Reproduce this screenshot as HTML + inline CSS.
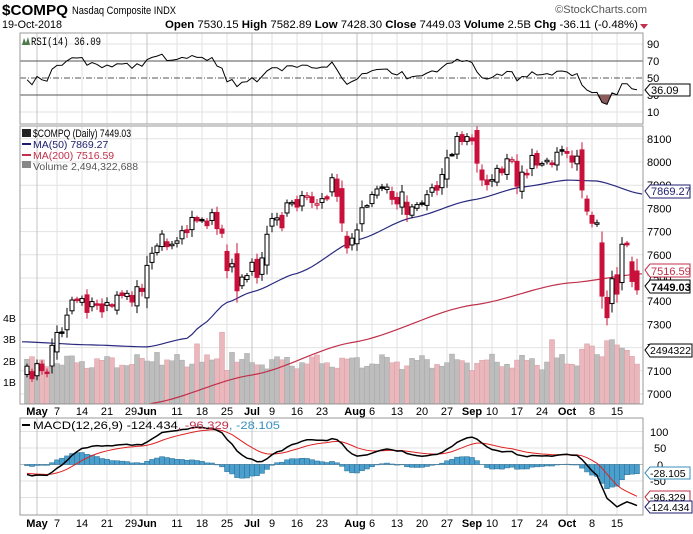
<!DOCTYPE html>
<html><head><meta charset="utf-8">
<style>
html,body{margin:0;padding:0;background:#fff;width:693px;height:534px;overflow:hidden}
svg{display:block;font-family:"Liberation Sans",sans-serif}
</style></head>
<body>
<svg id="s" width="693" height="534" viewBox="0 0 693 534" xmlns="http://www.w3.org/2000/svg">
<defs>
<clipPath id="cR"><rect x="20" y="33" width="623" height="91"/></clipPath>
<clipPath id="cM"><rect x="20" y="126" width="623" height="278"/></clipPath>
<clipPath id="cD"><rect x="20" y="418" width="623" height="97"/></clipPath>
</defs>
<rect width="693" height="534" fill="#fff"/>
<g id="grid"></g>
<g id="rsi" clip-path="url(#cR)"></g>
<g id="main" clip-path="url(#cM)"></g>
<g id="macd" clip-path="url(#cD)"></g>
<rect x="20" y="33" width="623" height="91" fill="none" stroke="#999"/>
<rect x="20" y="126" width="623" height="278" fill="none" stroke="#999"/>
<rect x="20" y="418" width="623" height="97" fill="none" stroke="#999"/>

<!-- header -->
<text x="2" y="15" font-size="15" font-weight="bold" textLength="66" lengthAdjust="spacingAndGlyphs">$COMPQ</text>
<text x="72" y="14" font-size="11" textLength="104" lengthAdjust="spacingAndGlyphs">Nasdaq Composite  INDX</text>
<text x="647" y="13" font-size="11" fill="#555" text-anchor="end">©StockCharts.com</text>
<text x="2" y="28" font-size="11" textLength="60" lengthAdjust="spacingAndGlyphs">19-Oct-2018</text>
<text x="165" y="28" font-size="11" textLength="473" lengthAdjust="spacingAndGlyphs"><tspan font-weight="bold">Open</tspan> 7530.15 <tspan font-weight="bold">High</tspan> 7582.89 <tspan font-weight="bold">Low</tspan> 7428.30 <tspan font-weight="bold">Close</tspan> 7449.03 <tspan font-weight="bold">Volume</tspan> 2.5B <tspan font-weight="bold">Chg</tspan> -36.11 (-0.48%)</text>
<polygon points="640,24 648,24 644,29" fill="#c0304a"/>

<!-- RSI labels -->
<polygon points="22,45 24,38 26,43 28,37 30,45" fill="#4a7a4a"/>
<text x="31" y="45" font-size="11" font-family="Liberation Mono,monospace" textLength="70" lengthAdjust="spacingAndGlyphs">RSI(14) 36.09</text>
<g font-size="11" fill="#000">
<text x="647" y="48">90</text><text x="647" y="65">70</text><text x="647" y="82">50</text><text x="647" y="99">30</text><text x="647" y="116">10</text>
</g>
<polygon points="645,90 650,84 690,84 690,96 650,96" fill="#fff" stroke="#000"/>
<text x="651" y="94" font-size="11">36.09</text>

<!-- main legend -->
<rect x="22" y="129" width="9" height="8" fill="#222"/>
<text x="33" y="137" font-size="11" textLength="98" lengthAdjust="spacingAndGlyphs">$COMPQ (Daily) 7449.03</text>
<line x1="22" y1="144" x2="31" y2="144" stroke="#1c1c6e" stroke-width="2"/>
<text x="33" y="148" font-size="10.5" fill="#1c1c6e">MA(50) 7869.27</text>
<line x1="22" y1="155" x2="31" y2="155" stroke="#c0304a" stroke-width="2"/>
<text x="33" y="159" font-size="10.5" fill="#c0304a">MA(200) 7516.59</text>
<rect x="22" y="161" width="9" height="7" fill="#888"/>
<text x="33" y="170" font-size="10.5" fill="#555">Volume 2,494,322,688</text>

<g font-size="11" fill="#000" id="pl"></g>
<g font-size="10.5" fill="#000">
<text x="3" y="322">4B</text><text x="3" y="343">3B</text><text x="3" y="365">2B</text><text x="3" y="386">1B</text>
</g>
<polygon points="645,191 650,185 690,185 690,198 650,198" fill="#fff" stroke="#1c1c6e"/>
<text x="651" y="195" font-size="11" fill="#1c1c6e">7869.27</text>
<polygon points="645,270 650,264 690,264 690,277 650,277" fill="#fff" stroke="#c0304a"/>
<text x="651" y="275" font-size="11" fill="#c0304a">7516.59</text>
<polygon points="645,286 650,280 690,280 690,293 650,293" fill="#fff" stroke="#000"/>
<text x="651" y="291" font-size="11" font-weight="bold">7449.03</text>
<polygon points="645,350 650,344 692,344 692,357 650,357" fill="#fff" stroke="#000"/>
<text x="650" y="354" font-size="10.5" textLength="41" lengthAdjust="spacingAndGlyphs">2494322</text>

<!-- MACD labels -->
<line x1="22" y1="425" x2="30" y2="425" stroke="#000" stroke-width="2"/>
<text x="33" y="429" font-size="11" textLength="247" lengthAdjust="spacingAndGlyphs">MACD(12,26,9) -124.434<tspan fill="#c0304a">, -96.329</tspan><tspan fill="#3a8fbf">, -28.105</tspan></text>
<g font-size="11">
<text x="650" y="436">100</text><text x="654" y="452">50</text><text x="657" y="469">0</text><text x="650" y="485">-50</text>
</g>
<polygon points="645,473 650,467 690,467 690,479 650,479" fill="#fff" stroke="#3a8fbf"/>
<text x="650" y="477" font-size="10.5">-28.105</text>
<polygon points="645,497 650,491 690,491 690,503 650,503" fill="#fff" stroke="#c0304a"/>
<text x="650" y="501" font-size="10.5">-96.329</text>
<polygon points="645,507 650,501 692,501 692,513 650,513" fill="#fff" stroke="#1c1c6e"/>
<text x="648" y="511" font-size="10.5">-124.434</text>

<!-- date labels -->
<g font-size="11" text-anchor="middle">
<g transform="translate(0,415)">
<text x="37" font-weight="bold">May</text><text x="57">7</text><text x="82">14</text><text x="107">21</text><text x="131">29</text><text x="147" font-weight="bold">Jun</text><text x="177">11</text><text x="202">18</text><text x="227">25</text><text x="252" font-weight="bold">Jul</text><text x="272">9</text><text x="297">16</text><text x="322">23</text><text x="355" font-weight="bold">Aug</text><text x="372">6</text><text x="397">13</text><text x="422">20</text><text x="447">27</text><text x="472" font-weight="bold">Sep</text><text x="492">10</text><text x="517">17</text><text x="542">24</text><text x="567" font-weight="bold">Oct</text><text x="592">8</text><text x="617">15</text>
</g>
<g transform="translate(0,527)">
<text x="37" font-weight="bold">May</text><text x="57">7</text><text x="82">14</text><text x="107">21</text><text x="131">29</text><text x="147" font-weight="bold">Jun</text><text x="177">11</text><text x="202">18</text><text x="227">25</text><text x="252" font-weight="bold">Jul</text><text x="272">9</text><text x="297">16</text><text x="322">23</text><text x="355" font-weight="bold">Aug</text><text x="372">6</text><text x="397">13</text><text x="422">20</text><text x="447">27</text><text x="472" font-weight="bold">Sep</text><text x="492">10</text><text x="517">17</text><text x="542">24</text><text x="567" font-weight="bold">Oct</text><text x="592">8</text><text x="617">15</text>
</g>
</g>
</svg>
<script>
(function(){
var NS="http://www.w3.org/2000/svg";
function el(p,t,a){var e=document.createElementNS(NS,t);for(var k in a)e.setAttribute(k,a[k]);p.appendChild(e);return e;}
var c=[7119.80,7066.27,7130.70,7100.90,7088.15,7209.62,
7265.21,7266.90,7339.91,7404.97,7402.88,
7411.32,7351.63,7398.30,7382.47,7354.34,
7394.04,7378.46,7425.96,7424.43,7433.85,
7396.59,7462.45,7442.12,7554.33,
7606.46,7637.86,7689.24,7635.07,7645.51,
7659.93,7703.79,7695.70,7761.04,7746.38,
7747.02,7725.59,7781.51,7712.95,7692.82,
7532.01,7561.63,7445.08,7503.68,7510.30,
7567.69,7502.67,7586.43,7688.39,
7756.20,7759.20,7716.61,7823.92,7825.98,
7805.72,7855.12,7854.44,7825.30,7820.20,
7841.87,7840.77,7932.24,7852.18,7737.42,
7630.00,7671.79,7707.29,7802.69,7812.01,
7859.68,7883.66,7888.33,7891.78,7839.11,
7819.71,7870.89,7774.12,7806.52,7816.33,
7821.01,7859.17,7889.10,7878.46,7945.98,
8017.90,8030.04,8109.69,8088.36,8109.54,
8091.25,7995.17,7922.73,7902.54,
7924.16,7972.47,7954.23,8013.71,8010.04,
7895.79,7956.11,7950.04,8028.23,7986.96,
7993.25,8007.47,7990.37,8041.97,8046.35,
8037.30,7999.55,8025.09,7879.51,7788.45,
7735.95,7738.02,7422.05,7329.06,7496.89,
7430.74,7645.49,7642.70,7485.14,7449.03];
var N=c.length; // index k -> day i=k-2
function X(k){return 37+5*(k-2);}
function PY(p){return 162+(8000-p)*0.232;}
function RY(v){return 44+(90-v)*0.85;}
function MY(v){return 464.5-v*0.33;}
var grid=document.getElementById('grid');
// horizontal grid
for(var p=7000;p<=8100;p+=100){var y=PY(p);el(grid,'line',{x1:20,x2:643,y1:y,y2:y,stroke:'#e2e2e2'});}
var pl=document.getElementById('pl');
for(var p=7000;p<=8100;p+=100){var t=el(pl,'text',{x:647,y:PY(p)+4});t.textContent=String(p);}
[90,10].forEach(function(v){el(grid,'line',{x1:20,x2:643,y1:RY(v),y2:RY(v),stroke:'#e2e2e2'});});
[100,50,-50,-100].forEach(function(v){el(grid,'line',{x1:20,x2:643,y1:MY(v),y2:MY(v),stroke:'#e2e2e2'});});
var wk=[57,82,107,131,177,202,227,272,297,322,372,397,422,447,492,517,542,592,617];
var mo=[37,147,252,357,472,567];
function vl(x,col){[[33,124],[126,404],[418,515]].forEach(function(r){el(grid,'line',{x1:x,x2:x,y1:r[0],y2:r[1],stroke:col});});}
wk.forEach(function(x){vl(x,'#e2e2e2');});mo.forEach(function(x){vl(x,'#c4c4c4');});
// RSI lines
el(grid,'line',{x1:20,x2:643,y1:RY(70),y2:RY(70),stroke:'#555'});
el(grid,'line',{x1:20,x2:643,y1:RY(30),y2:RY(30),stroke:'#555'});
el(grid,'line',{x1:20,x2:643,y1:RY(50),y2:RY(50),stroke:'#555','stroke-dasharray':'6,2,1,2'});
el(grid,'line',{x1:20,x2:643,y1:MY(0),y2:MY(0),stroke:'#bbb'});
// opens/highs/lows
var g=[-0.3,0.4,0.1,-0.2,0.5,0.2,-0.4,0.3,0,0.35,-0.1,0.25];
var o=[],h=[],l=[];
for(var k=0;k<N;k++){var pc=k?c[k-1]:7100;var d=c[k]-pc;var op=pc+d*g[k%12]+((k*37)%11-5)*2;
o[k]=op;var r=6+((k*53)%17)+Math.abs(c[k]-op)*0.15;h[k]=Math.max(op,c[k])+r;l[k]=Math.min(op,c[k])-r*1.1;}
o[N-1]=7530.15;h[N-1]=7582.89;l[N-1]=7428.30;
// volume
var main=document.getElementById('main');
var vol=[];
for(var k=0;k<N;k++){vol[k]=1.95+0.25*Math.sin(k*0.9)+0.15*Math.sin(k*2.3+1);}
var sp={34:2.8,39:3.35,41:2.4,26:2.4,105:3.0,113:2.7,116:2.95,117:3.0,118:2.75,119:2.6,120:2.5,111:2.55,112:2.8,114:2.3,115:2.2,44:2.35,1:2.2,2:1.9,3:2.05};
for(var kk in sp)vol[+kk]=sp[kk];
for(var k=0;k<N;k++){var up=k==0||c[k]>=c[k-1];var hh=vol[k]*21.3;
el(main,'rect',{x:X(k)-2.5,y:403.5-hh,width:5,height:hh,fill:up?'#bdbdbd':'#e9b7bc',stroke:up?'#a8a8a8':'#d8a0a6','stroke-width':0.5});}
// MAs
function interp(a){var pts=[];for(var j=0;j<a.length-1;j++){var A=a[j],B=a[j+1];for(var i=A[0];i<B[0];i++){var t=(i-A[0])/(B[0]-A[0]);var s=t*t*(3-2*t);pts.push([i,A[1]+(B[1]-A[1])*(0.5*t+0.5*s)]);}}pts.push(a[a.length-1]);return pts.map(function(q){return (37+5*q[0]).toFixed(1)+','+PY(q[1]).toFixed(1);}).join(' ');}
el(main,'polyline',{points:interp([[-3,7225],[10,7212],[22,7203],[30,7240],[33,7297],[38,7395],[43,7440],[52,7520],[64,7664],[75,7760],[87,7836],[97,7892],[106,7922],[112,7918],[121,7862]]),fill:'none',stroke:'#2a2a80','stroke-width':1.2});
el(main,'polyline',{points:interp([[20,6940],[23,6960],[43,7082],[63,7222],[87,7383],[106,7478],[121,7518]]),fill:'none',stroke:'#c0304a','stroke-width':1.2});
// candles
for(var k=0;k<N;k++){var x=X(k);var down=k>0&&c[k]<c[k-1];var col=down?'#c8103a':'#000';
el(main,'line',{x1:x,x2:x,y1:PY(h[k]),y2:PY(l[k]),stroke:col,'stroke-width':1});
var top=PY(Math.max(o[k],c[k])),bh=Math.max(1.5,Math.abs(PY(o[k])-PY(c[k])));
var hollow=c[k]>o[k];
el(main,'rect',{x:x-2,y:top,width:4,height:bh,fill:hollow?'#fff':col,stroke:col,'stroke-width':1});}
// RSI
var ag=11,al=11,rs=[];
for(var k=1;k<N;k++){var d=c[k]-c[k-1];ag=(ag*13+Math.max(d,0))/14;al=(al*13+Math.max(-d,0))/14;rs[k]=100-100/(1+ag/al);}
rs[0]=48;
var rg=document.getElementById('rsi');
var rp=[];for(var k=0;k<N;k++)rp.push(X(k)+','+RY(rs[k]).toFixed(1));
// fill below 30
var fp=[];for(var k=0;k<N;k++)fp.push(X(k)+','+Math.max(RY(rs[k]),RY(30)).toFixed(1));
el(rg,'polygon',{points:X(0)+','+RY(30)+' '+fp.join(' ')+' '+X(N-1)+','+RY(30),fill:'#8b5a5a'});
el(rg,'polyline',{points:rp.join(' '),fill:'none',stroke:'#000','stroke-width':1});
// MACD
var e12=7150,e26=7180,sg=-26,m=[],s=[],hs=[];
for(var k=0;k<N;k++){e12+= (c[k]-e12)*2/13;e26+=(c[k]-e26)*2/27;m[k]=e12-e26;sg+=(m[k]-sg)*0.2;s[k]=sg;hs[k]=m[k]-sg;}
var mg=document.getElementById('macd');
for(var k=0;k<N;k++){var y0=MY(0),y1=MY(hs[k]);el(mg,'rect',{x:X(k)-2.5,y:Math.min(y0,y1),width:5,height:Math.abs(y1-y0),fill:'#4b9fcc',stroke:'#2c6f96','stroke-width':0.5});}
var mp=[],sp2=[];for(var k=0;k<N;k++){mp.push(X(k)+','+MY(m[k]).toFixed(1));sp2.push(X(k)+','+MY(s[k]).toFixed(1));}
el(mg,'polyline',{points:sp2.join(' '),fill:'none',stroke:'#e02020','stroke-width':1});
el(mg,'polyline',{points:mp.join(' '),fill:'none',stroke:'#000','stroke-width':1.5});
})();
</script>
</body></html>
